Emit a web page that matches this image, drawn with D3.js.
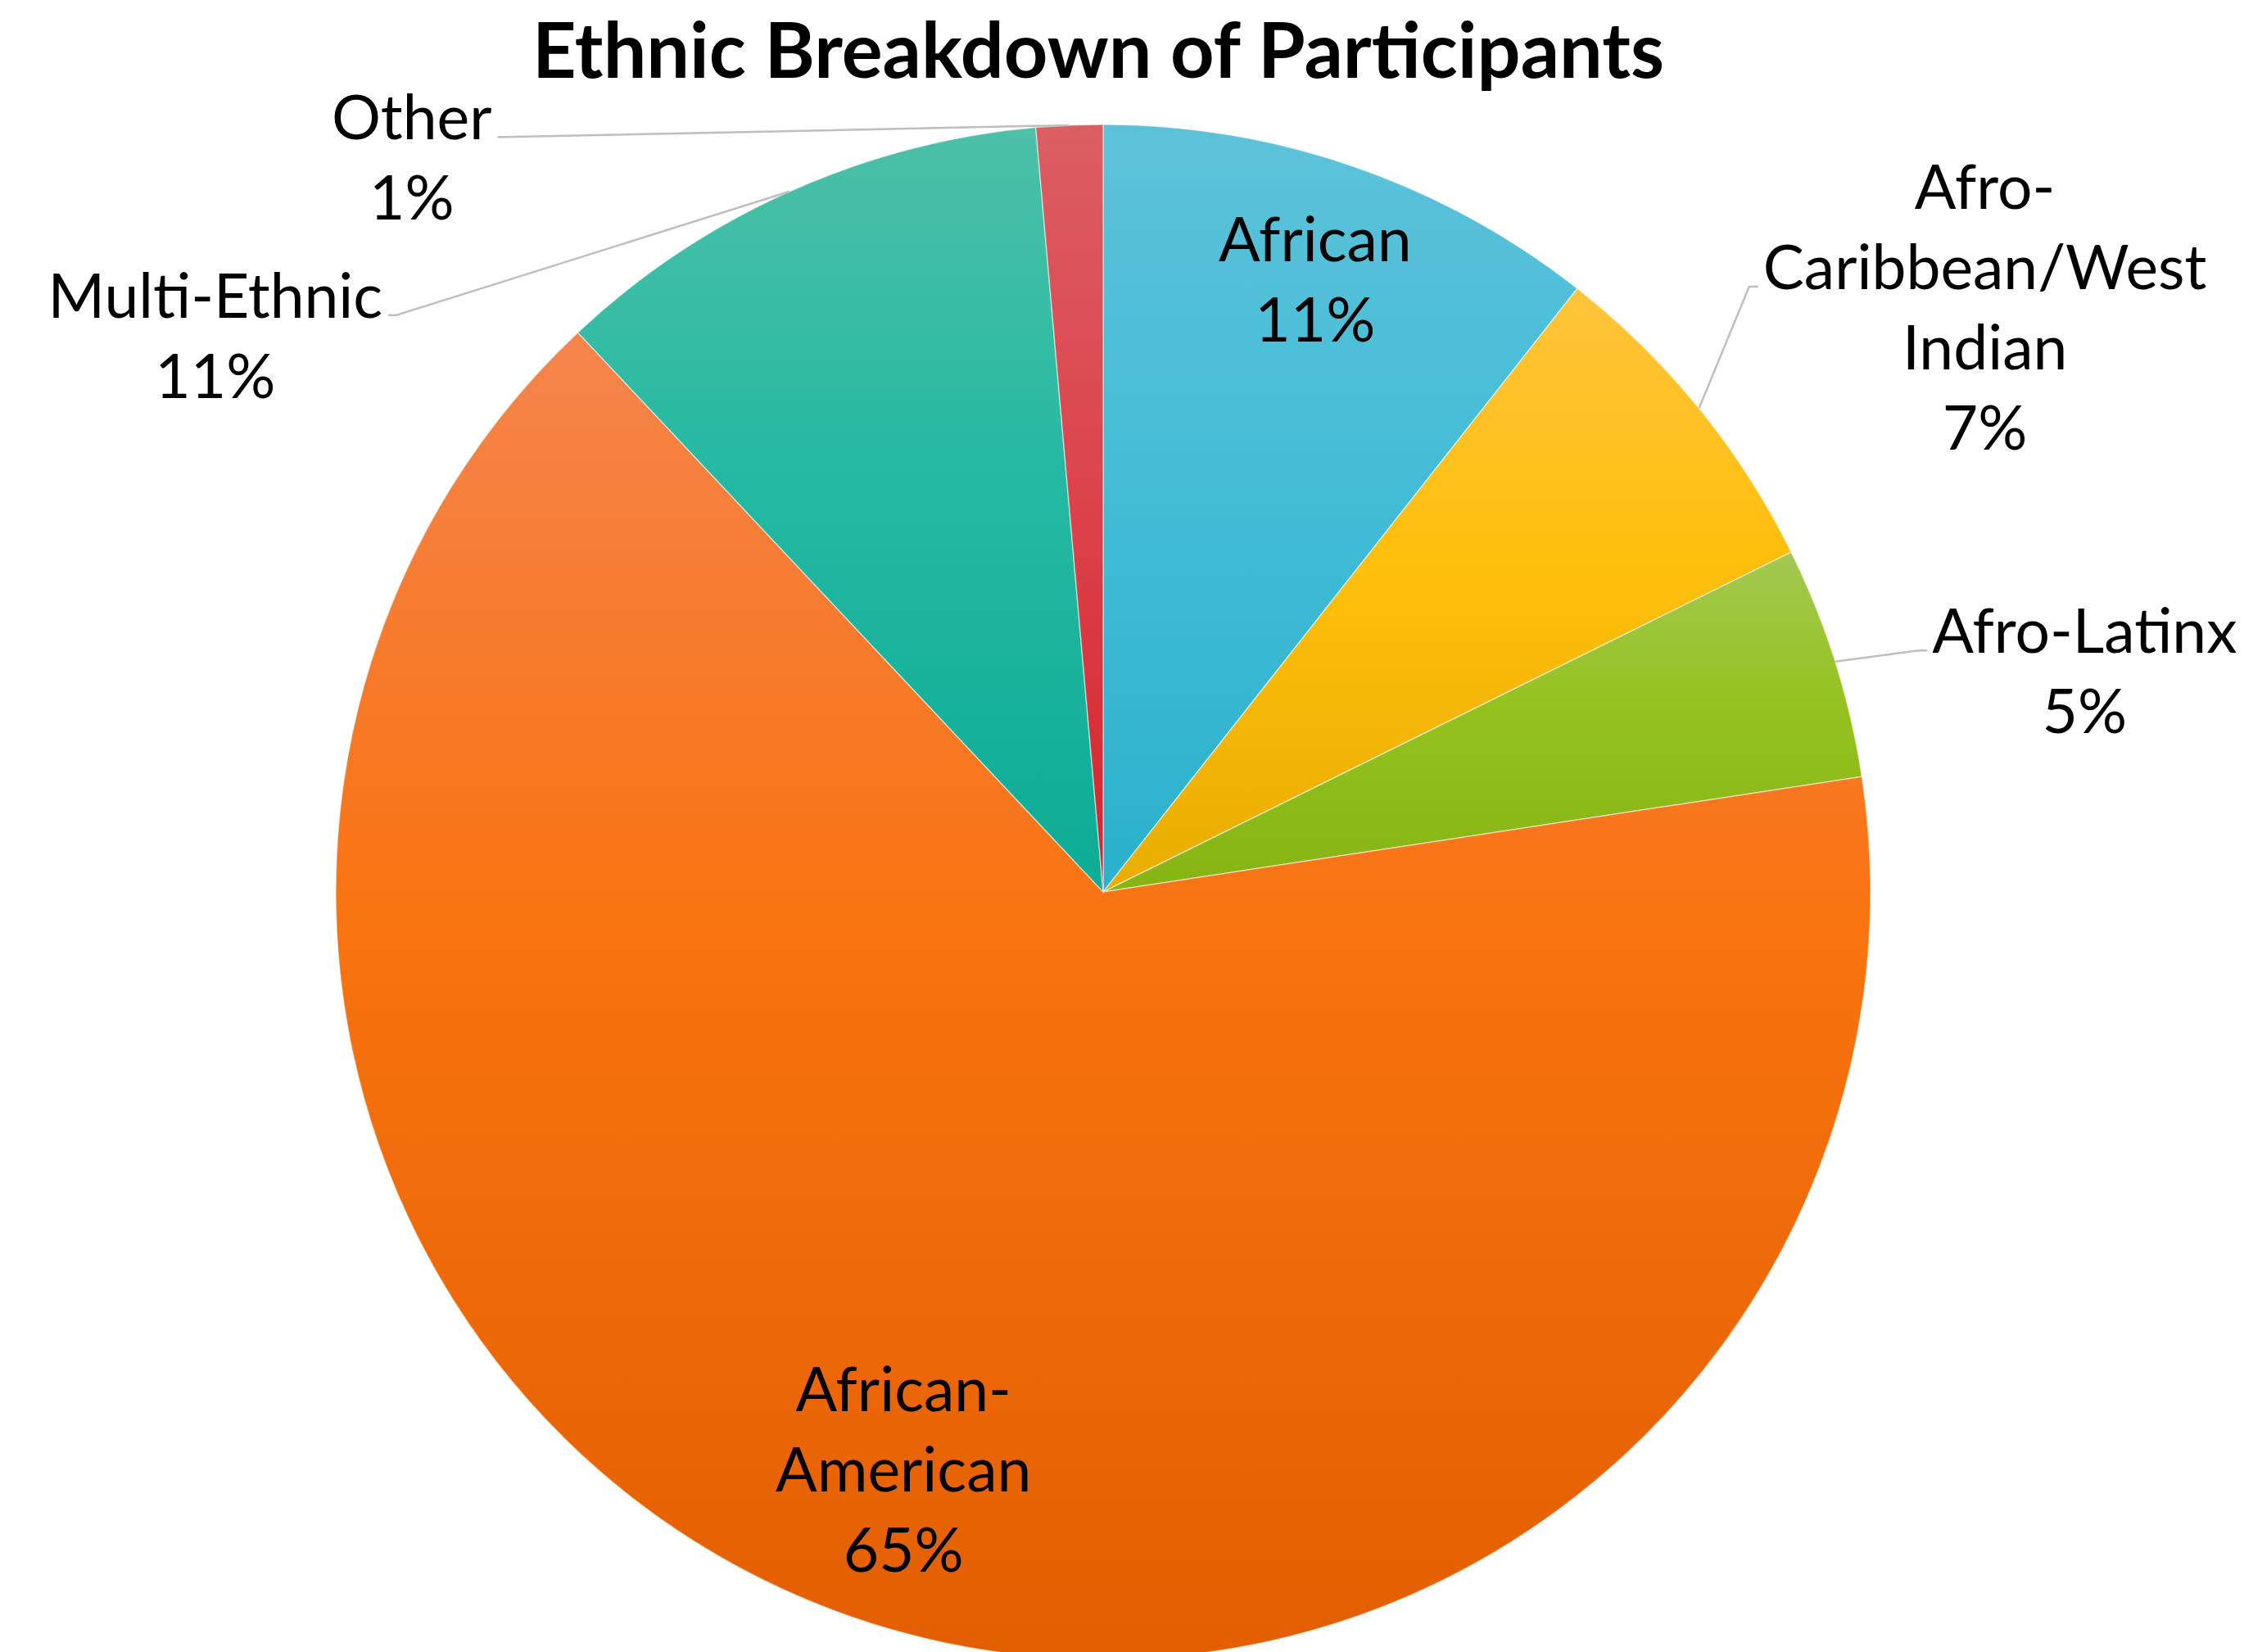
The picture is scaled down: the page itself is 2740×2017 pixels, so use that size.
<!DOCTYPE html>
<html><head><meta charset="utf-8">
<script src="https://cdn.jsdelivr.net/npm/d3@7"></script>
<style>html,body{margin:0;padding:0;background:#fff;} svg{display:block;}</style>
</head><body>
<script>
// ---- data ----
const categories = ["African", "Afro-Caribbean/West Indian", "Afro-Latinx", "African-American", "Multi-Ethnic", "Other"];
const values = [10.6, 7.1, 4.9, 65.4, 10.6, 1.4];
const labelLines = [["African"], ["Afro-", "Caribbean/West", "Indian"], ["Afro-Latinx"], ["African-", "American"], ["Multi-Ethnic"], ["Other"]];
const titleText = "Ethnic Breakdown of Participants";

// ---- style / layout ----
const W = 2740, H = 2017;
const cx = 1347, cy = 1089, R = 937;
const gradStops = [
  ["#5dc2d9", "#45bdd7", "#2ab1cc"],
  ["#ffc43c", "#ffbf0c", "#e8ad00"],
  ["#a3c951", "#95c21f", "#86b412"],
  ["#f5844c", "#f97310", "#e35e00"],
  ["#4dc0a8", "#25b9a2", "#0cac95"],
  ["#db5e63", "#dc454d", "#d5242e"]
];
const labelLayout = [
  {type: "inside", r: 0.845},
  {type: "outside", dx: 1.149, dy: -0.762, attach: 1, side: "left"},
  {type: "outside", dx: 1.279, dy: -0.288, attach: 0, side: "left"},
  {type: "inside", r: 0.796},
  {type: "outside", dx: -1.157, dy: -0.725, attach: 0, side: "right"},
  {type: "outside", dx: -0.901, dy: -0.957, attach: 0, side: "right"}
];
const labelFont = "Lato, 'Open Sans', sans-serif";
const labelSize = 75, lineH = 98, capH = 54;

const svg = d3.select("body").append("svg").attr("width", W).attr("height", H)
  .style("background", "#fff");
const defs = svg.append("defs");
gradStops.forEach((s, i) => {
  const g = defs.append("linearGradient").attr("id", "g" + i)
    .attr("x1", 0).attr("y1", 0).attr("x2", 0).attr("y2", 1);
  [0, 0.45, 1].forEach((o, k) => g.append("stop").attr("offset", o).attr("stop-color", s[k]));
});

const total = d3.sum(values);
const pie = d3.pie().sort(null).value(d => d);
const arcs = pie(values);
const arc = d3.arc().innerRadius(0).outerRadius(R);
const edgeArc = d3.arc().innerRadius(R).outerRadius(R);

const g = svg.append("g").attr("transform", `translate(${cx},${cy})`);
g.selectAll("path.slice").data(arcs).join("path")
  .attr("class", "slice")
  .attr("d", arc)
  .attr("fill", (d, i) => `url(#g${i})`)
  .attr("stroke", "#ffffff").attr("stroke-opacity", 0.5).attr("stroke-width", 1.5);

// title
const title = svg.append("text").attr("x", 1341).attr("y", 95)
  .attr("text-anchor", "middle")
  .style("font-family", labelFont).style("font-weight", 700).style("font-size", "90px")
  .attr("fill", "#000").text(titleText);
const tw = title.node().getComputedTextLength();
title.style("font-size", (90 * 1382 / tw) + "px");

// labels
const pct = v => Math.round(v / total * 100) + "%";
const leaderG = svg.append("g");
const labG = svg.append("g");
arcs.forEach((d, i) => {
  const lay = labelLayout[i];
  const lines = labelLines[i].concat([pct(values[i])]);
  let xc, yc;
  if (lay.type === "inside") {
    const c = d3.arc().innerRadius(lay.r * R).outerRadius(lay.r * R).centroid(d);
    xc = cx + c[0]; yc = cy + c[1];
  } else {
    xc = cx + lay.dx * R; yc = cy + lay.dy * R;
  }
  const n = lines.length;
  const texts = lines.map((t, k) => {
    const y = yc + (k - (n - 1) / 2) * lineH + capH / 2;
    const el = labG.append("text").attr("x", xc).attr("y", y)
      .attr("text-anchor", "middle")
      .style("font-family", labelFont).style("font-size", labelSize + "px")
      .attr("fill", "#000").text(t);
    return {el, y};
  });
  if (lay.type === "outside") {
    const a = texts[lay.attach];
    const w = a.el.node().getComputedTextLength();
    const ly = a.y - 3;
    let ex, bx;
    if (lay.side === "left") { ex = xc - w / 2 - 6; bx = ex - 11; }
    else { ex = xc + w / 2 + 7; bx = ex + 10; }
    const p = edgeArc.centroid(d);
    leaderG.append("polyline")
      .attr("points", [[cx + p[0], cy + p[1]], [bx, ly], [ex, ly]].map(q => q.join(",")).join(" "))
      .attr("fill", "none").attr("stroke", "#bfbfbf").attr("stroke-width", 2.5);
  }
});
</script>
</body></html>
